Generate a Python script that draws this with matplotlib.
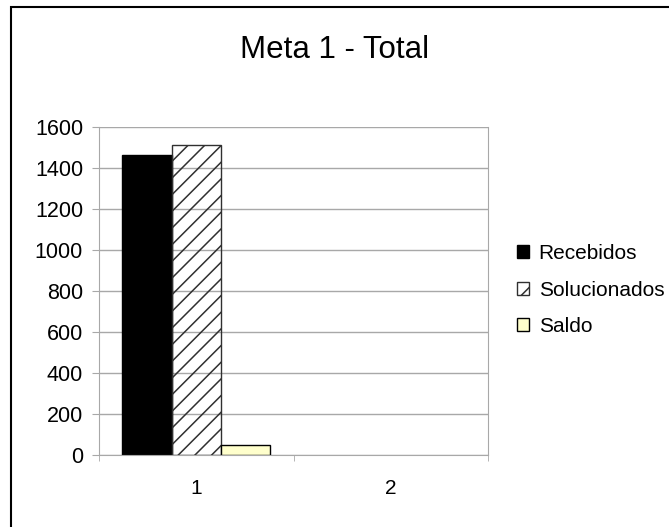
import numpy as np
import matplotlib.pyplot as plt
from matplotlib.patches import Rectangle

plt.rcParams['font.family'] = ['Liberation Sans', 'DejaVu Sans']
plt.rcParams['hatch.linewidth'] = 1.1

categorias = ['1', '2']
recebidos = [1462, 0]
solucionados = [1511, 0]
saldo = [48, 0]
yticks = [0, 200, 400, 600, 800, 1000, 1200, 1400, 1600]

fig = plt.figure(figsize=(6.69, 5.27), dpi=100)
ax = fig.add_axes([99 / 669, 1 - 455 / 527, (488 - 99) / 669, (455 - 127) / 527])

x = np.arange(1, len(categorias) + 1)
w = 0.254
grid_c = '#a8a8a8'


def lw(vals):
    # no outline for empty bars
    return [1 if v else 0 for v in vals]


ax.set_axisbelow(True)
ax.yaxis.grid(True, color=grid_c, linewidth=1)
ax.bar(x - w, recebidos, w, color='black', edgecolor='black',
       linewidth=lw(recebidos), label='Recebidos')
ax.bar(x, solucionados, w, facecolor='none', edgecolor='#303030', hatch='//',
       linewidth=lw(solucionados), label='Solucionados')
ax.bar(x + w, saldo, w, color='#ffffcc', edgecolor='black',
       linewidth=lw(saldo), label='Saldo')

ax.set_xlim(0.5, 2.5)
ax.set_ylim(0, 1600)
ax.set_yticks(yticks)
ax.set_xticks(x)
ax.set_xticklabels(categorias)
ax.set_xticks([0.5, 1.5, 2.5], minor=True)
ax.tick_params(axis='x', which='major', length=0, pad=17.5, labelsize=15)
ax.tick_params(axis='x', which='minor', length=4.5, color=grid_c)
ax.tick_params(axis='y', length=5, color=grid_c, labelsize=15.5, pad=6.5)

for s in ['left', 'bottom', 'right']:
    ax.spines[s].set_color(grid_c)
ax.spines['top'].set_visible(False)

fig.text(335 / 669, 1 - 50 / 527, 'Meta 1 - Total', fontsize=22.5,
         ha='center', va='center')

leg = fig.legend(loc='center left', bbox_to_anchor=(498 / 669, 1 - 290 / 527),
                 frameon=False, fontsize=15, handlelength=0.6, handleheight=0.6,
                 handletextpad=0.45, labelspacing=0.85)
for h in leg.legend_handles:
    h.set_linewidth(1)

fig.patches.append(Rectangle((11 / 669, -0.1), 1.2, 1.1 - 7 / 527,
                             transform=fig.transFigure, fill=False,
                             edgecolor='black', linewidth=1.5))

fig.savefig('out.png', dpi=100)
